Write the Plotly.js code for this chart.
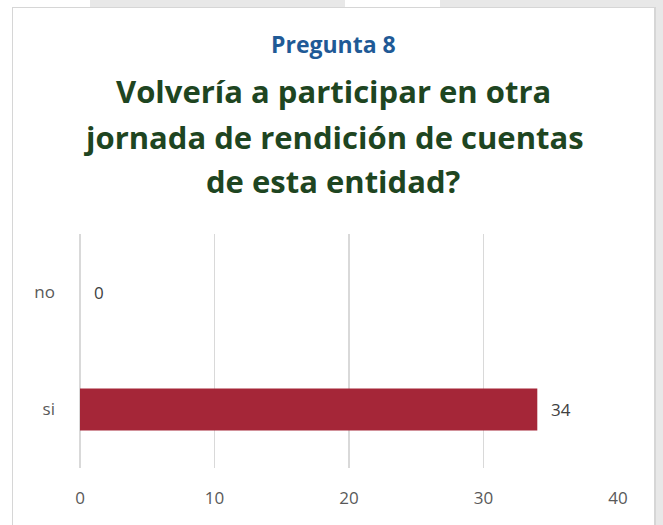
<!DOCTYPE html>
<html>
<head>
<meta charset="utf-8">
<script src="https://cdn.plot.ly/plotly-3.0.1.min.js"></script>
<style>
  html, body { margin:0; padding:0; width:663px; height:525px; overflow:hidden; }
  body { background: linear-gradient(to right, #ffffff 0px, #ffffff 90px, #e8e8e8 90px, #e8e8e8 345px, #ffffff 345px, #ffffff 440px, #e8e8e8 440px); }
  #frame { position:absolute; left:12px; top:7px; width:641px; height:530px; background:#fff; border:1px solid #d6d6d6; border-right-width:2px; }
  #chart { position:absolute; left:0; top:0; width:641px; height:518px; }
</style>
</head>
<body>
<div id="frame"><div id="chart"></div></div>
<script>
const categories = ["si", "no"];
const values = [34, 0];
const xTicks = [0, 10, 20, 30, 40];
const subtitle = "Pregunta 8";
const titleLines = ["Volvería a participar en otra", "jornada de rendición de cuentas", "de esta entidad?"];

const trace = {
  type: "bar",
  orientation: "h",
  y: categories,
  x: values,
  marker: { color: "#a52638" },
  width: 0.36,
  hoverinfo: "none"
};

const labelAnnotations = categories.map((c, i) => ({
  text: String(values[i]), x: values[i], y: c, xref: "x", yref: "y",
  xanchor: "left", yanchor: "middle", xshift: 12, showarrow: false,
  font: { family: "Open Sans, sans-serif", size: 17, color: "#404040" }
}));

const titleYShifts = [143, 97, 53];
const titleAnnotations = titleLines.map((line, i) => ({
  text: "<b>" + line + "</b>", xref: "paper", yref: "paper", x: 0.472, y: 1,
  yshift: titleYShifts[i], xanchor: "center", yanchor: "middle", showarrow: false,
  font: { family: "Open Sans, sans-serif", size: 31, color: "#1e4521" }
}));

const layout = {
  width: 641, height: 518,
  margin: { l: 67, r: 36, t: 226, b: 58 },
  paper_bgcolor: "#ffffff",
  plot_bgcolor: "#ffffff",
  showlegend: false,
  font: { family: "Open Sans, sans-serif", color: "#595959" },
  xaxis: {
    range: [0, 40],
    tickvals: xTicks,
    ticktext: xTicks.map(String),
    showgrid: true,
    gridcolor: "#d9d9d9",
    gridwidth: 1.5,
    zeroline: true,
    zerolinecolor: "#d9d9d9",
    zerolinewidth: 1.5,
    showline: false,
    ticks: "",
    ticklabelstandoff: 18,
    tickfont: { size: 17, color: "#595959" },
    automargin: false
  },
  yaxis: {
    categoryorder: "array",
    categoryarray: categories,
    showgrid: false,
    zeroline: false,
    showline: false,
    ticks: "",
    ticklabelstandoff: 24,
    tickfont: { size: 17, color: "#595959" },
    automargin: false
  },
  annotations: [
    { text: "<b>" + subtitle + "</b>", xref: "paper", yref: "paper", x: 0.472, y: 1, yshift: 190, xanchor: "center", yanchor: "middle",
      showarrow: false, font: { family: "Open Sans, sans-serif", size: 23, color: "#1f5a96" } }
  ].concat(titleAnnotations).concat(labelAnnotations)
};

Plotly.newPlot("chart", [trace], layout, { displayModeBar: false, staticPlot: true });
</script>
</body>
</html>
